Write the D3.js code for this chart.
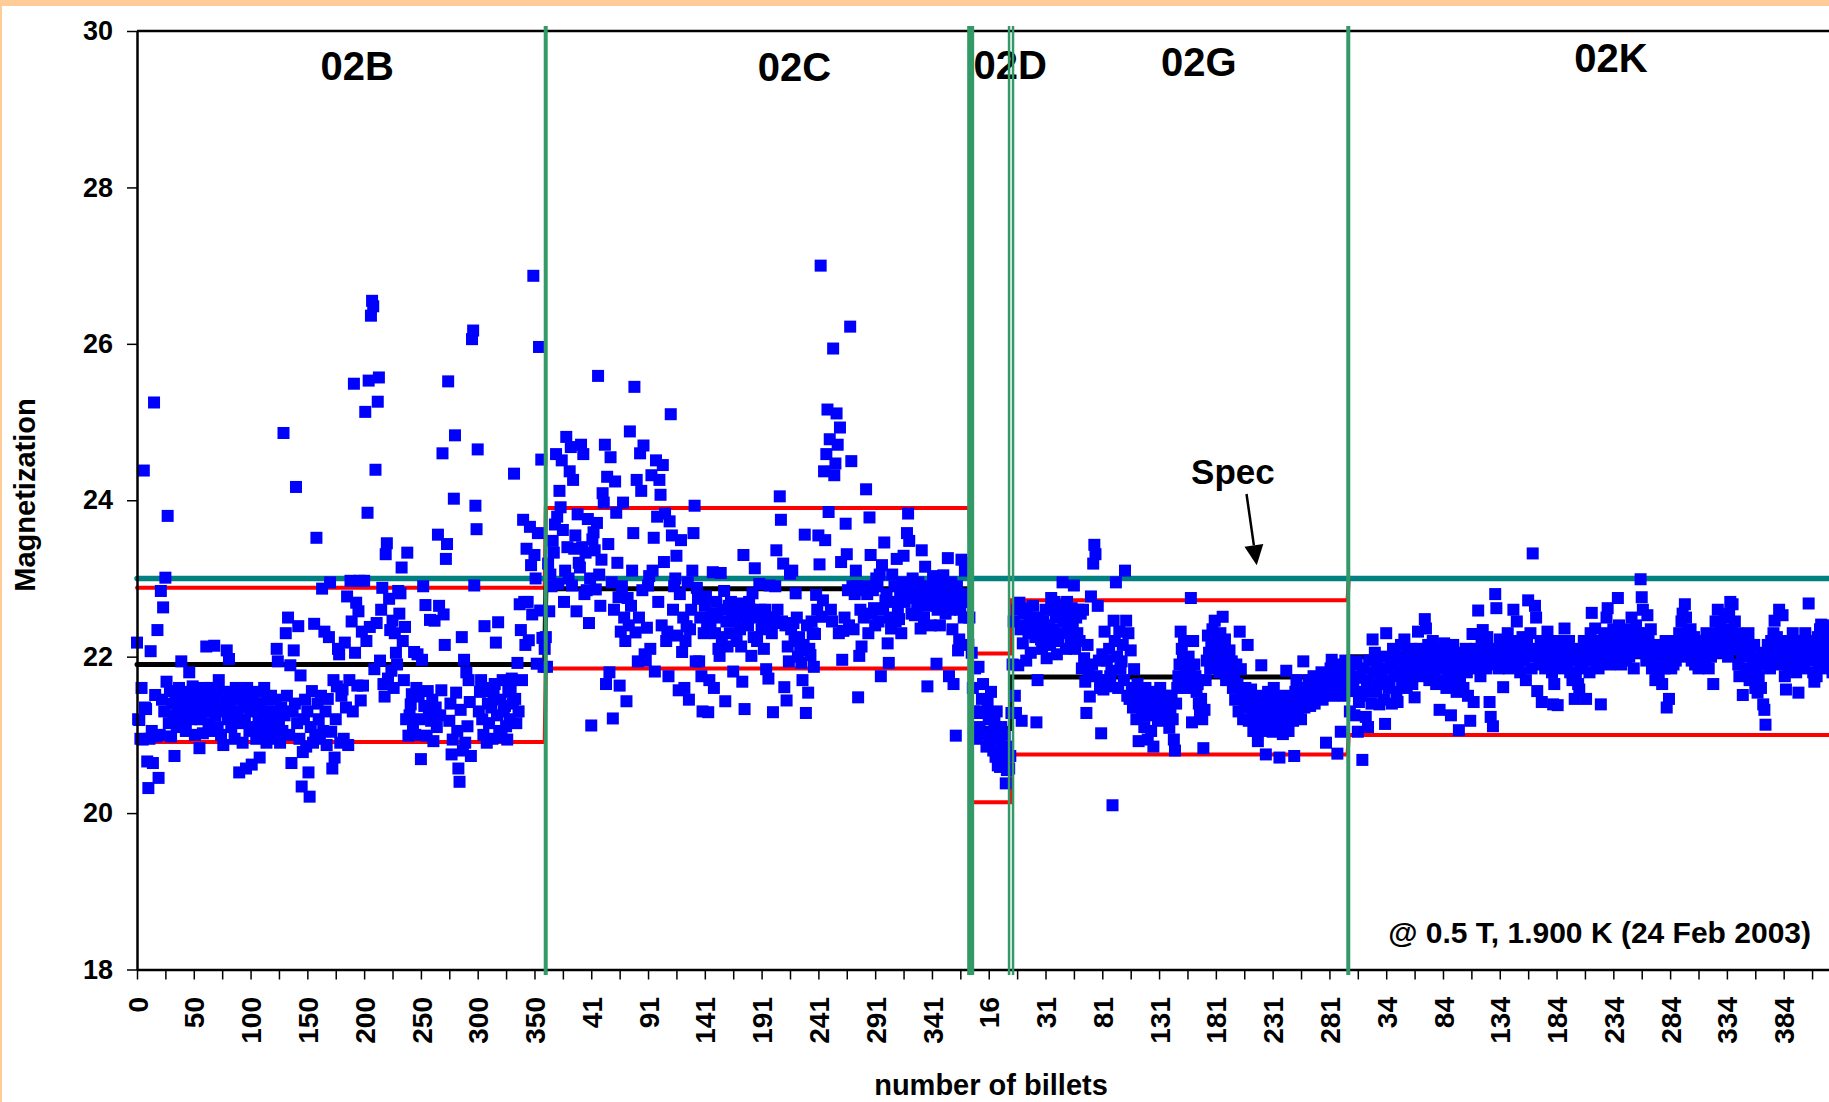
<!DOCTYPE html>
<html>
  <head>
    <meta charset='UTF-8'>
    <style>
    html, body {
      margin: 0;
      padding: 0;
      background: #ffcc99;
    }
    svg {
      display: block;
    }
    text {
      font-family: 'Liberation Sans', Arial, sans-serif;
      font-weight: bold;
      fill: #000;
    }
    </style>
  </head>
  <body>
  <script src='https://cdnjs.cloudflare.com/ajax/libs/d3/7.8.5/d3.min.js'></script>
  <script>

    // lots (billet batches), in plotting order
    var lotNames = ['02B', '02C', '02D', '02G', '02K'];
    var lotStart = [0, 360, 735, 770, 1067];
    var lotMean  = [21.9, 22.87, 21.08, 21.74, 22.0];
    var lotUpper = [22.88, 23.9, 22.04, 22.72, 23.0];
    var lotLower = [20.91, 21.85, 20.14, 20.75, 21.0];
    var specValue = 23;

    var yTicks = [18, 20, 22, 24, 26, 28, 30];
    var xTickLabels = ['0', '50', '100', '150', '200', '250', '300', '350',
      '41', '91', '141', '191', '241', '291', '341',
      '16',
      '31', '81', '131', '181', '231', '281',
      '34', '84', '134', '184', '234', '284', '334', '384'];

    // magnetization of each billet, one array per lot
    var mag02B = [
      22.18,21.2,21.19,20.95,21.6,20.94,24.38,21.35,21.33,20.66,20.32,20.95,22.07,21.05,20.64,25.25,21.51,20.98,22.34,20.45,
      21.0,22.84,21.45,22.63,21.3,23.01,21.68,23.8,21.15,21.56,20.98,21.4,21.25,20.73,21.5,21.1,21.35,21.6,21.2,21.94,
      21.45,21.3,21.55,21.05,21.4,21.25,21.8,21.5,21.2,21.62,21.35,21.0,21.45,21.3,21.55,20.83,21.2,21.4,21.02,21.6,
      21.3,22.13,21.5,21.15,21.35,21.6,21.05,21.45,22.14,21.25,21.5,21.1,21.7,21.35,21.0,21.55,20.87,21.3,21.45,22.08,
      21.2,21.97,21.4,21.1,21.55,21.3,20.95,21.6,21.25,21.45,20.52,21.15,21.5,20.9,21.35,21.2,20.57,21.6,21.4,21.05,
      21.3,20.62,21.5,21.1,21.35,20.95,21.55,21.2,20.71,21.4,21.0,21.3,21.6,21.15,20.9,21.45,21.25,21.05,21.5,20.95,
      21.3,21.1,21.45,22.1,21.94,21.2,20.9,21.35,21.05,24.86,21.25,22.3,21.5,22.5,21.0,21.89,20.64,21.3,22.08,21.4,
      24.17,21.15,22.39,20.95,21.76,20.34,20.78,21.2,21.45,20.85,21.3,20.52,20.21,21.1,21.56,20.9,22.42,21.0,23.52,21.4,
      21.2,20.95,21.5,22.87,21.05,22.32,21.3,20.87,21.46,22.25,22.95,21.04,20.57,21.7,20.71,21.2,21.62,22.1,22.03,20.9,
      21.5,21.58,20.95,22.18,21.35,22.77,20.87,21.7,22.97,22.45,21.3,25.49,22.05,22.69,21.63,22.58,22.97,21.44,22.32,21.63,
      22.97,25.13,22.2,23.84,25.53,22.38,26.36,26.55,26.48,21.84,24.39,22.43,25.26,25.57,21.95,22.6,22.88,21.65,21.49,23.31,
      23.45,21.72,22.74,22.34,21.82,22.46,21.6,22.3,22.05,21.9,22.84,22.55,22.81,23.14,22.2,21.7,22.38,21.2,23.33,20.99,
      21.25,21.39,21.52,21.1,22.06,21.0,21.6,22.03,21.49,21.2,20.69,21.96,22.9,21.37,22.66,20.99,21.56,21.3,22.47,21.18,
      21.45,20.92,22.46,21.35,21.1,23.56,22.65,21.25,21.57,24.6,22.54,22.15,23.25,23.44,25.52,21.18,21.4,20.75,20.94,24.02,
      24.83,21.54,21.05,20.57,20.4,21.32,22.25,20.8,21.96,20.9,21.8,21.11,21.7,21.42,20.73,26.06,26.17,22.91,23.93,23.63,
      24.65,21.3,21.55,21.7,21.2,21.0,22.39,21.56,20.9,21.4,21.15,21.6,21.35,20.95,21.5,21.65,22.18,21.25,22.44,21.05,
      21.45,20.97,21.7,21.3,21.37,21.11,20.94,21.55,21.2,21.6,21.72,21.4,24.34,21.46,21.15,21.92,21.3,22.67,22.34,21.7,
      23.75,22.7,22.15,23.38,22.7,22.21,23.66,23.17,22.54,26.87,23.3,23.0,21.91,23.58,25.96,22.59,24.52,22.24,21.87,22.1
    ];
    var mag02C = [
      22.25,21.87,23.19,22.58,23.05,22.9,23.48,23.33,23.69,24.59,23.79,22.93,24.12,23.91,24.51,23.62,22.7,23.1,24.81,23.4,
      23.0,24.37,24.68,22.91,24.26,23.38,23.55,22.58,23.82,23.2,23.14,24.71,23.4,24.59,22.8,23.33,22.85,23.76,22.43,23.0,
      21.12,23.5,23.59,23.36,22.86,23.71,25.59,23.05,22.65,23.24,24.09,23.97,24.71,21.65,24.3,23.44,21.8,24.55,22.95,21.21,
      22.6,24.24,23.84,23.2,22.76,21.63,22.32,22.9,23.97,22.5,22.2,21.43,22.75,22.4,24.88,22.65,23.1,23.58,25.45,22.31,
      24.26,21.94,22.5,24.6,24.12,22.85,24.7,22.03,21.95,22.37,22.91,23.03,22.1,24.32,23.1,23.52,21.81,24.51,23.79,22.7,
      24.26,24.07,22.4,24.45,23.21,23.83,22.2,22.32,21.75,23.73,25.1,23.55,22.6,22.9,23.0,23.29,22.27,21.57,22.8,23.49,
      22.06,22.5,21.6,22.2,22.39,22.95,21.45,22.35,22.6,23.1,23.58,23.93,21.94,22.88,22.74,21.94,22.5,21.75,21.3,22.3,
      22.65,22.77,22.4,21.29,21.7,22.43,22.55,23.08,21.6,22.3,22.7,22.5,22.1,22.01,23.07,22.25,22.6,22.84,21.43,22.45,
      22.13,22.65,22.3,22.7,22.5,21.81,22.6,22.45,22.2,22.55,22.68,22.35,22.13,21.68,23.3,21.33,22.5,22.62,22.4,22.7,
      22.6,22.01,22.81,22.25,23.13,22.5,22.2,22.58,22.93,22.6,22.35,22.45,22.1,22.6,21.84,22.5,21.72,22.91,22.43,22.3,
      21.29,22.5,22.9,23.36,22.6,22.43,24.05,23.75,22.45,23.19,21.61,22.4,21.44,22.13,21.94,23.06,22.35,23.1,22.43,22.2,
      22.81,22.5,22.0,22.25,22.08,21.92,21.7,22.15,23.56,21.28,22.4,21.54,22.1,22.02,22.45,22.3,21.87,22.29,22.79,22.6,
      23.55,23.18,27.0,22.51,22.72,24.37,23.49,24.59,25.16,23.85,24.78,22.6,22.45,25.94,24.32,24.47,25.11,24.71,22.3,24.93,
      23.21,21.96,22.33,22.5,23.7,23.31,22.85,22.4,26.22,24.5,22.9,22.35,22.8,23.1,22.9,21.48,22.01,22.6,22.13,22.85,
      22.5,22.9,24.14,22.8,22.3,23.78,23.3,22.55,22.85,22.62,22.4,23.0,22.9,22.45,23.05,21.75,23.17,22.6,23.46,22.72,
      22.8,22.17,21.92,22.5,22.36,23.05,22.7,22.9,22.45,23.25,22.6,22.48,22.85,22.3,22.95,23.29,22.7,22.85,23.58,23.83,
      23.48,22.9,22.55,23.0,22.75,22.53,22.85,22.6,22.95,22.7,22.36,23.36,22.8,22.5,23.15,22.65,21.62,22.9,22.75,22.4,
      22.85,23.03,22.7,22.95,21.91,22.6,22.8,22.4,22.9,22.65,23.04,22.7,22.55,22.85,23.26,21.75,22.6,22.95,22.35,21.65,
      22.75,20.99,22.9,22.08,22.22,22.6,23.24,22.8,22.5,23.1,22.7,23.2,22.15,22.5
    ];
    var mag02D = [
      22.05,21.6,21.3,21.85,20.95,21.28,21.87,21.1,21.3,21.46,21.65,21.0,21.28,20.85,21.42,21.2,20.9,21.55,21.04,20.8,
      21.19,20.72,21.3,20.61,20.95,20.59,21.1,20.81,20.7,21.0,20.38,20.55,20.85,20.57,20.73
    ];
    var mag02G = [
      21.28,21.9,22.45,21.5,21.28,22.6,21.89,22.69,22.35,21.18,22.17,22.55,22.4,21.95,22.62,22.3,22.5,22.05,22.4,22.65,
      22.4,22.25,21.16,21.7,22.35,22.5,22.22,22.1,22.45,22.3,22.6,21.98,22.25,22.4,22.15,22.75,22.6,22.35,22.7,22.5,
      22.03,22.2,22.55,22.65,22.3,22.95,22.45,22.6,22.1,22.7,22.35,22.55,22.2,22.62,22.4,22.91,22.1,22.5,22.3,22.6,
      22.2,22.55,21.85,22.6,21.98,21.68,21.28,22.15,21.8,21.49,22.77,21.9,23.19,23.43,23.31,21.75,22.65,21.95,21.6,21.02,
      22.03,21.58,22.32,21.7,21.95,21.62,22.1,21.75,21.82,20.1,22.46,22.2,22.95,22.0,21.6,22.32,21.85,21.94,22.15,21.7,
      23.1,22.46,21.5,22.3,21.46,22.08,21.6,21.35,21.84,21.5,21.2,21.65,20.92,21.4,21.55,21.3,21.45,21.1,21.6,21.25,
      20.94,21.4,21.5,21.05,21.35,20.85,21.55,21.3,21.45,21.2,21.38,21.6,21.18,21.4,21.3,21.5,21.22,21.35,21.45,21.09,
      21.3,21.5,21.2,20.94,20.8,21.4,21.6,21.75,21.9,22.32,22.1,21.98,22.2,21.85,21.72,21.6,22.0,21.8,22.75,21.16,
      22.2,21.9,21.75,21.55,21.65,21.4,21.3,21.46,21.2,20.83,21.32,21.7,21.95,22.27,22.05,21.85,22.15,22.35,22.0,22.46,
      22.2,21.9,22.08,21.8,22.3,22.1,22.51,21.95,22.22,21.7,22.0,21.85,22.08,21.78,21.94,21.6,21.75,21.45,21.9,21.65,
      21.3,22.32,21.84,21.55,21.2,21.45,21.6,21.35,22.15,21.18,21.4,21.58,21.25,21.05,21.45,21.3,21.1,20.92,21.35,21.5,
      21.89,21.2,21.4,21.05,20.75,21.3,21.55,21.15,21.45,21.25,21.04,21.6,21.35,21.42,21.1,21.5,20.71,21.3,21.2,21.01,
      21.45,21.15,21.82,21.35,21.05,21.5,21.25,21.4,21.18,20.73,21.55,21.7,21.3,21.45,21.6,21.2,21.5,21.94,21.35,21.6,
      21.45,21.55,21.7,21.37,21.6,21.5,21.75,21.4,21.65,21.55,21.7,21.65,21.5,21.8,21.45,21.6,21.75,20.9,21.56,21.7,
      21.6,21.85,21.96,21.5,21.65,21.8,21.55,20.76,21.7,21.9,21.04,21.65,21.8,21.5,21.95,21.7,21.85
    ];
    var mag02K = [
      21.85,21.3,21.56,21.9,21.6,21.25,21.75,21.94,21.04,21.42,21.73,21.5,20.68,21.85,21.55,21.23,21.7,21.1,21.95,21.6,
      21.4,22.22,21.8,22.05,21.55,21.9,21.65,21.39,21.82,22.0,21.7,21.45,21.14,22.3,21.85,21.6,21.65,21.95,21.4,22.1,
      21.75,21.9,21.55,21.42,22.0,21.8,22.15,21.7,21.95,22.22,21.85,21.6,22.05,21.9,21.75,22.1,21.65,21.95,21.48,21.8,
      22.05,22.32,21.9,22.1,21.75,22.0,21.85,22.48,22.36,21.95,22.15,21.7,22.05,21.9,22.2,21.8,22.0,21.65,21.95,22.1,
      21.32,21.85,22.0,21.7,22.17,21.9,21.6,22.05,21.8,21.95,21.25,21.85,22.15,21.7,22.0,21.55,21.9,21.06,21.75,22.05,
      21.85,21.6,21.95,22.1,21.8,21.5,22.0,21.18,21.9,22.29,21.42,21.85,22.1,21.95,22.59,22.05,21.75,22.2,22.34,21.9,
      22.15,21.85,22.25,22.0,21.42,21.23,22.1,21.11,21.9,22.8,22.62,22.05,21.85,22.22,22.1,21.95,21.61,22.15,21.9,22.05,
      22.3,21.85,22.1,21.95,22.2,22.6,22.0,22.15,22.45,21.9,22.1,21.8,22.05,22.25,21.95,22.1,21.7,22.15,22.72,22.0,
      22.3,21.85,23.32,22.1,22.65,22.5,21.56,22.05,21.9,22.2,21.42,22.0,22.15,21.85,22.1,22.32,21.95,22.2,22.05,21.8,
      21.39,21.65,22.1,21.9,21.38,22.2,22.0,21.85,22.1,21.95,22.36,22.15,21.9,22.05,22.2,21.8,22.0,21.7,21.95,21.46,
      21.77,22.1,21.65,21.58,21.9,22.05,21.85,22.2,22.2,21.46,21.95,22.1,21.8,22.3,22.56,22.0,22.15,22.36,21.9,22.05,
      21.85,22.2,21.39,21.94,22.1,22.3,22.0,22.5,22.62,22.15,21.9,22.25,22.05,22.35,22.1,21.95,22.2,22.75,22.4,22.1,
      21.9,22.3,22.05,22.2,21.95,22.15,22.35,22.0,22.25,22.5,22.1,21.85,22.2,22.4,22.05,22.3,22.15,22.99,22.76,22.6,
      22.1,22.3,21.95,22.53,22.2,22.0,22.35,21.85,22.1,21.89,21.7,22.15,21.8,21.75,22.05,21.9,21.65,22.1,21.85,22.2,
      21.35,21.95,21.46,22.0,21.85,22.15,21.9,22.05,21.95,22.2,22.1,22.3,22.0,22.45,22.55,22.15,22.67,22.5,22.3,22.1,
      22.2,22.35,21.95,22.1,22.25,21.9,22.05,22.2,21.85,22.15,22.0,21.95,22.2,22.1,21.9,22.3,22.05,21.85,22.15,22.0,
      22.25,21.65,22.1,22.45,22.3,22.6,22.2,22.4,22.05,22.3,22.15,22.5,22.1,22.3,22.0,22.55,22.7,22.35,22.67,22.2,
      22.45,22.1,22.3,21.9,21.75,22.2,22.05,21.51,22.1,21.85,22.25,22.0,22.3,21.7,22.1,21.8,21.95,22.15,21.6,21.85,
      21.54,21.75,21.95,21.6,22.05,21.39,21.32,21.13,21.9,22.15,22.0,21.85,22.2,22.05,22.3,22.46,22.1,22.25,21.95,22.6,
      22.2,21.9,22.53,22.1,21.75,21.58,22.05,21.85,22.2,21.95,22.1,22.3,21.9,22.05,21.8,22.15,21.54,22.0,22.2,21.9,
      22.1,21.85,22.3,22.0,22.15,22.68,21.95,22.2,22.05,21.8,21.68,22.1,21.75,22.25,21.9,22.35,22.41,22.1,21.95,22.2,
      21.85,22.3,22.05,22.4,21.9,22.15,21.8,22.0,22.25,21.95,22.1,21.85,22.0
    ];
    var lotData = [mag02B, mag02C, mag02D, mag02G, mag02K];

    // where the green separators were drawn (billet index) and the lot label spots
    var dividerAt = [359.9, 734.1, 767.9, 771.4, 1066.6];
    var dividerWidth = [4, 7, 2.5, 2.5, 4];
    var labelAt = [194, 579, 769, 935, 1298];
    var labelLevel = [29.375, 29.36, 29.39, 29.43, 29.47];

    var W = 1829, H = 1102;
    var xMax = 1504;

    var x = d3.scaleLinear().domain([0, xMax]).range([137, 1845]);
    var y = d3.scaleLinear().domain([18, 30]).range([969.5, 31]);

    var svg = d3.select('body')
      .append('svg')
      .attr('width', W)
      .attr('height', H);

    // white page inside the orange frame
    svg.append('rect')
      .attr('x', 2).attr('y', 6)
      .attr('width', W).attr('height', H)
      .attr('fill', '#fff');

    // top border of the plot
    svg.append('line')
      .attr('x1', x(0)).attr('x2', x(xMax))
      .attr('y1', y(30)).attr('y2', y(30))
      .attr('stroke', '#000').attr('stroke-width', 2.5);

    var lotEnd = lotStart.map(function(s, i) {
      return i < lotStart.length - 1 ? s + lotData[i].length - 1 : xMax;
    });

    function lotSteps(vals) {
      var pts = [];
      vals.forEach(function(v, i) {
        pts.push([lotStart[i], v]);
        pts.push([lotEnd[i], v]);
      });
      return pts;
    }

    var line = d3.line()
      .x(function(d) { return x(d[0]); })
      .y(function(d) { return y(d[1]); });

    [[lotUpper, '#ff0000', 4], [lotLower, '#ff0000', 4], [lotMean, '#000', 5]].forEach(function(s) {
      svg.append('path')
        .attr('d', line(lotSteps(s[0])))
        .attr('fill', 'none')
        .attr('stroke', s[1])
        .attr('stroke-width', s[2])
        .attr('stroke-linecap', 'round');
    });

    // spec line, over the lot limits
    svg.append('line')
      .attr('x1', x(0)).attr('x2', x(xMax))
      .attr('y1', y(specValue)).attr('y2', y(specValue))
      .attr('stroke', '#008080').attr('stroke-width', 5.5)
      .attr('stroke-linecap', 'round');

    // billets
    var points = [];
    lotData.forEach(function(vals, i) {
      vals.forEach(function(v, k) {
        points.push([lotStart[i] + k, v]);
      });
    });

    var ms = 12;
    svg.append('g')
      .selectAll('rect')
      .data(points)
      .enter()
      .append('rect')
      .attr('x', function(d) { return x(d[0]) - ms / 2; })
      .attr('y', function(d) { return y(d[1]) - ms / 2; })
      .attr('width', ms)
      .attr('height', ms)
      .attr('fill', '#0000ff');

    // axes
    var yAxis = svg.append('g')
      .attr('transform', 'translate(' + x(0) + ',0)')
      .call(d3.axisLeft(y).tickValues(yTicks).tickSize(10).tickSizeOuter(0).tickPadding(14));

    var xAxis = svg.append('g')
      .attr('transform', 'translate(0,' + y(18) + ')')
      .call(d3.axisBottom(x)
        .tickValues(d3.range(0, 1501, 25))
        .tickSize(10)
        .tickSizeOuter(0)
        .tickFormat(function(d) {
          return d % 50 === 0 && xTickLabels[d / 50] ? xTickLabels[d / 50] : '';
        }));

    [yAxis, xAxis].forEach(function(g) {
      g.select('.domain').attr('stroke', '#000').attr('stroke-width', 2.5);
      g.selectAll('.tick line').attr('stroke', '#000').attr('stroke-width', 1.5);
      g.attr('font-family', null).attr('font-size', null);
    });
    yAxis.selectAll('text').style('font-size', '27px');
    xAxis.selectAll('text')
      .style('font-size', '28px')
      .style('text-anchor', 'end')
      .attr('transform', 'rotate(-90)')
      .attr('x', -27.5)
      .attr('y', 0)
      .attr('dy', '0.36em');

    // lot labels
    svg.append('g')
      .selectAll('text')
      .data(lotNames)
      .enter()
      .append('text')
      .attr('x', function(d, i) { return x(labelAt[i]); })
      .attr('y', function(d, i) { return y(labelLevel[i]); })
      .attr('text-anchor', 'middle')
      .style('font-size', '40px')
      .text(function(d) { return d; });

    // Spec note with arrow
    svg.append('text')
      .attr('x', x(965)).attr('y', y(24.21))
      .attr('text-anchor', 'middle')
      .style('font-size', '35px')
      .text('Spec');

    var a0 = [x(977), y(24.08)], a1 = [x(986), y(23.17)];
    var dx = a1[0] - a0[0], dy = a1[1] - a0[1], len = Math.sqrt(dx * dx + dy * dy);
    var ux = dx / len, uy = dy / len;
    var hb = [a1[0] - 20 * ux, a1[1] - 20 * uy];
    svg.append('line')
      .attr('x1', a0[0]).attr('y1', a0[1])
      .attr('x2', hb[0]).attr('y2', hb[1])
      .attr('stroke', '#000').attr('stroke-width', 2.5);
    svg.append('polygon')
      .attr('points', [a1, [hb[0] - 9.5 * uy, hb[1] + 9.5 * ux], [hb[0] + 9.5 * uy, hb[1] - 9.5 * ux]]
        .map(function(p) { return p.join(','); }).join(' '))
      .attr('fill', '#000');

    svg.append('text')
      .attr('x', 1811).attr('y', 942.7)
      .attr('text-anchor', 'end')
      .style('font-size', '30px')
      .text('@ 0.5 T, 1.900 K (24 Feb 2003)');

    // axis titles
    svg.append('text')
      .attr('transform', 'translate(35,495) rotate(-90)')
      .attr('text-anchor', 'middle')
      .style('font-size', '29px')
      .text('Magnetization');

    svg.append('text')
      .attr('x', 991).attr('y', 1095)
      .attr('text-anchor', 'middle')
      .style('font-size', '29px')
      .text('number of billets');

    // green lot separators, drawn over everything
    svg.append('g')
      .selectAll('line')
      .data(dividerAt)
      .enter()
      .append('line')
      .attr('x1', function(d) { return x(d); })
      .attr('x2', function(d) { return x(d); })
      .attr('y1', 26).attr('y2', 975)
      .attr('stroke', '#339966')
      .attr('stroke-width', function(d, i) { return dividerWidth[i]; });

  </script>
  </body>
</html>
